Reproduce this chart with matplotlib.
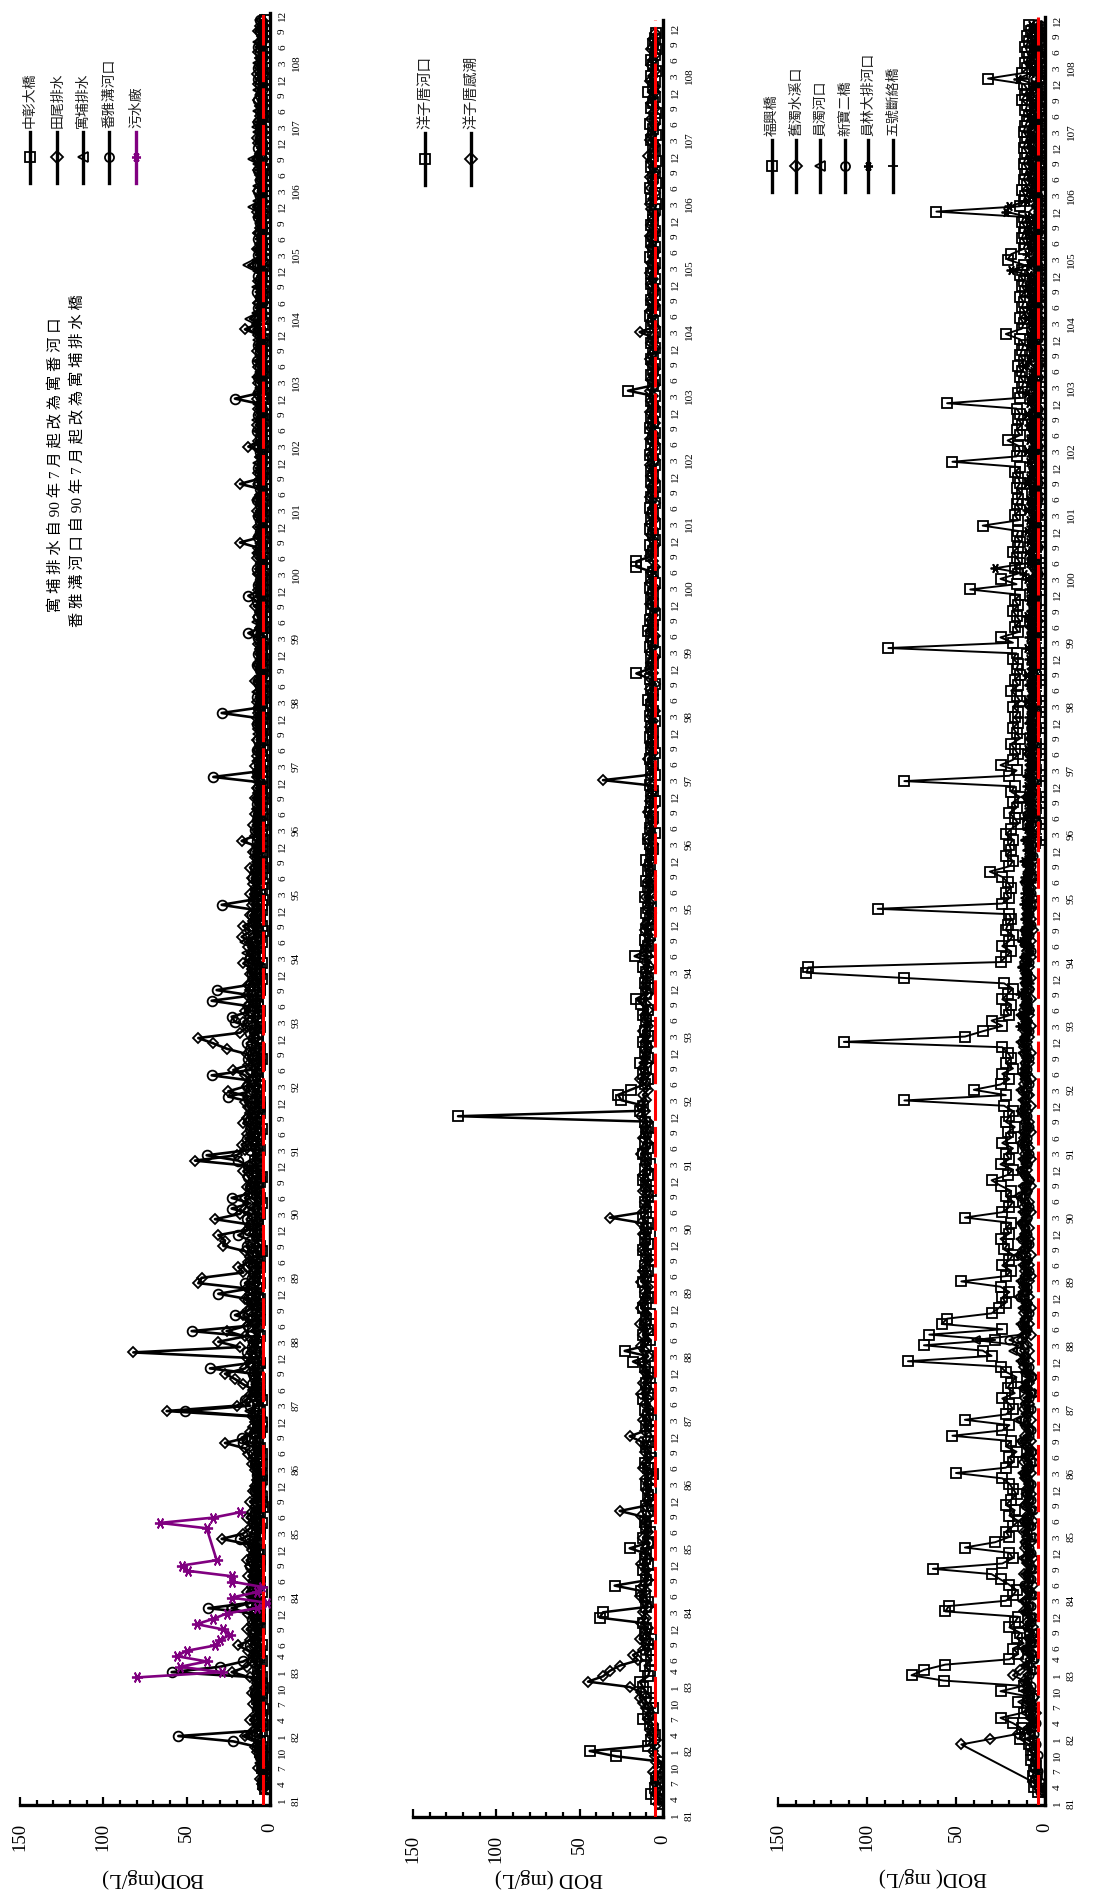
import numpy as np
import matplotlib.pyplot as plt
from matplotlib.lines import Line2D

plt.rcParams['font.family'] = ['Liberation Serif', 'Noto Sans CJK TC', 'DejaVu Sans']
CJK = ['Noto Sans CJK TC', 'Liberation Serif']

W, H = 1093, 1892

# ---------------- data (民國年/月, BOD mg/L) ----------------
# panel 1
zhongzhang_start = (81, 3)   # 中彰大橋
zhongzhang = [
    3, 4, 2, 3, 5, 4, 3, 6, 5, 4,
    6, 5, 4, 7, 5, 4, 6, 8, 5, 4, 6, 5,
    7, 6, 5, 8, 6, 5, 7, 9, 6, 8, 7, 6,
    8, 6, 7, 5, 9, 6, 7, 8, 6, 10, 7, 6,
    7, 9, 6, 8, 5, 7, 6, 4, 5, 6, 8, 7,
    6, 5, 7, 6, 8, 5, 6, 7, 9, 6, 5, 7,
    8, 6, 7, 5, 6, 8, 7, 6, 9, 7, 6, 8,
    9, 7, 8, 6, 10, 7, 6, 8, 7, 9, 6, 7,
    8, 6, 7, 9, 6, 8, 7, 5, 6, 8, 7, 9,
    7, 8, 6, 7, 5, 6, 8, 7, 6, 5, 7, 8,
    9, 7, 6, 8, 7, 6, 5, 7, 8, 6, 7, 6,
    8, 7, 6, 9, 7, 8, 6, 5, 7, 6, 8, 7,
    7, 6, 8, 7, 6, 9, 7, 8, 6, 7, 5, 6,
    6, 5, 7, 6, 8, 5, 6, 4, 5, 7, 6, 5,
    5, 4, 6, 5, 4, 3, 5, 4, 6, 5, 4, 5,
    4, 5, 3, 4, 6, 4, 3, 5, 4, 3, 5, 4,
    5, 4, 3, 4, 5, 3, 4, 3, 5, 4, 3, 4,
    4, 3, 5, 4, 3, 4, 3, 2, 4, 3, 4, 5,
    3, 4, 3, 5, 4, 3, 2, 3, 4, 3, 4, 3,
    4, 3, 4, 3, 2, 3, 4, 3, 2, 4, 3, 3,
    3, 4, 2, 3, 4, 3, 2, 3, 3, 4, 3, 2,
    3, 2, 4, 3, 3, 2, 3, 4, 2, 3, 3, 4,
    4, 3, 2, 3, 4, 2, 3, 3, 2, 3, 4, 3,
    3, 4, 3, 2, 3, 2, 3, 4, 3, 2, 3, 3,
    4, 3, 2, 3, 2, 3, 2, 3, 3, 2, 4, 3,
    3, 2, 3, 3, 2, 3, 4, 3, 2, 3, 3, 2,
    3, 3, 2, 3, 4, 2, 3, 2, 3, 3, 2, 3,
    4, 3, 3, 2, 3, 3, 2, 3, 2, 3, 3,
]
tianwei_start = (81, 3)   # 田尾排水
tianwei = [
    4, 5, 6, 4, 7, 5, 6, 8, 9, 7,
    15, 10, 8, 12, 9, 7, 10, 8, 11, 9, 8, 12,
    23, 14, 11, 9, 13, 19, 12, 10, 14, 11, 9, 13,
    23, 12, 10, 14, 11, 9, 13, 10, 12, 14, 9, 11,
    13, 29, 16, 12, 10, 14, 11, 9, 12, 8, 10, 9,
    8, 7, 9, 11, 10, 13, 15, 27, 14, 12, 10, 9,
    11, 62, 20, 14, 12, 10, 16, 21, 27, 15, 12, 14,
    82, 18, 31, 15, 26, 14, 12, 16, 13, 11, 15, 12,
    14, 43, 41, 16, 19, 13, 12, 15, 28, 27, 31, 14,
    12, 33, 18, 15, 13, 15, 12, 14, 11, 13, 16, 12,
    45, 20, 15, 17, 12, 14, 11, 16, 14, 12, 13, 15,
    13, 25, 14, 12, 15, 22, 13, 11, 14, 26, 34, 43,
    18, 14, 16, 12, 15, 13, 11, 14, 12, 13, 10, 12,
    11, 16, 12, 10, 13, 11, 17, 12, 16, 10, 12, 9,
    11, 9, 12, 8, 10, 11, 9, 12, 8, 9, 10, 8,
    17, 9, 8, 10, 7, 9, 8, 6, 9, 7, 8, 6,
    8, 7, 9, 6, 8, 7, 6, 8, 5, 7, 6, 8,
    7, 6, 8, 5, 7, 6, 9, 5, 6, 7, 5, 6,
    6, 7, 5, 8, 6, 5, 7, 6, 9, 5, 6, 7,
    6, 5, 7, 6, 5, 8, 6, 7, 18, 6, 5, 7,
    5, 6, 8, 5, 7, 6, 5, 18, 6, 7, 5, 6,
    6, 5, 13, 7, 5, 6, 8, 5, 6, 7, 5, 8,
    6, 5, 7, 6, 5, 7, 6, 5, 8, 6, 5, 7,
    15, 8, 7, 6, 5, 7, 6, 5, 6, 7, 5, 6,
    7, 6, 5, 8, 6, 5, 7, 6, 5, 6, 8, 7,
    6, 5, 7, 6, 5, 6, 7, 5, 8, 6, 5, 7,
    8, 6, 5, 7, 6, 5, 6, 7, 5, 6, 7, 5,
    8, 6, 5, 6, 7, 5, 6, 5, 7, 6, 5,
]
yupu_start = (81, 3)   # 寓埔排水
yupu = [
    3, 4, 3, 5, 4, 6, 5, 4, 7, 6,
    14, 8, 6, 5, 7, 6, 8, 5, 6, 7, 5, 6,
    8, 7, 9, 6, 8, 7, 10, 8, 7, 9, 6, 8,
    9, 8, 7, 10, 8, 6, 9, 7, 8, 6, 9, 7,
    8, 10, 7, 6, 8, 9, 7, 6, 8, 5, 7, 6,
    5, 6, 7, 5, 8, 6, 7, 9, 8, 6, 7, 5,
    6, 12, 8, 7, 9, 6, 8, 7, 10, 8, 6, 7,
    9, 8, 10, 7, 9, 8, 7, 9, 6, 8, 7, 9,
    8, 10, 9, 7, 8, 9, 6, 8, 10, 7, 9, 8,
    7, 9, 8, 10, 7, 8, 9, 7, 8, 6, 9, 7,
    10, 8, 9, 7, 8, 10, 7, 9, 8, 7, 6, 8,
    9, 8, 10, 7, 9, 8, 7, 6, 8, 9, 7, 10,
    8, 9, 7, 10, 8, 7, 9, 8, 6, 8, 7, 9,
    8, 7, 9, 14, 7, 15, 8, 7, 9, 6, 8, 7,
    7, 8, 6, 9, 7, 8, 6, 7, 5, 8, 6, 7,
    6, 7, 5, 8, 6, 5, 7, 6, 8, 5, 6, 7,
    7, 5, 6, 8, 5, 7, 6, 5, 7, 6, 8, 5,
    6, 7, 5, 6, 8, 5, 7, 6, 5, 7, 6, 5,
    5, 6, 7, 5, 6, 8, 5, 6, 7, 5, 6, 5,
    6, 5, 7, 6, 5, 6, 8, 5, 6, 7, 5, 6,
    5, 7, 6, 5, 8, 6, 5, 7, 6, 5, 6, 7,
    6, 5, 7, 6, 5, 7, 6, 8, 5, 6, 7, 5,
    7, 6, 5, 8, 6, 5, 7, 6, 5, 6, 7, 6,
    10, 7, 12, 8, 6, 7, 5, 6, 8, 6, 5, 7,
    13, 8, 6, 7, 5, 6, 7, 5, 6, 7, 6, 10,
    7, 6, 5, 7, 6, 5, 6, 7, 10, 6, 5, 6,
    6, 7, 8, 6, 5, 7, 6, 5, 6, 7, 5, 6,
    6, 5, 7, 6, 5, 6, 7, 5, 6, 5, 6,
]
fanya_start = (81, 3)   # 番雅溝河口
fanya = [
    2, 3, 4, 3, 5, 4, 6, 5, 8, 22,
    55, 9, 6, 7, 5, 8, 6, 7, 9, 6, 8, 7,
    59, 30, 16, 10, 8, 12, 9, 7, 10, 8, 11, 9,
    37, 12, 9, 11, 8, 10, 7, 9, 12, 8, 10, 9,
    11, 18, 9, 7, 10, 8, 9, 6, 8, 7, 9, 6,
    7, 8, 6, 9, 7, 10, 8, 16, 17, 9, 8, 7,
    9, 51, 12, 15, 10, 8, 11, 9, 10, 36, 12, 10,
    14, 11, 10, 12, 47, 13, 11, 21, 12, 10, 13, 31,
    12, 15, 11, 10, 13, 12, 10, 11, 14, 12, 19, 13,
    12, 14, 11, 23, 12, 23, 10, 12, 11, 13, 10, 13,
    19, 38, 12, 11, 14, 10, 12, 11, 13, 10, 12, 11,
    25, 12, 14, 11, 35, 12, 10, 13, 11, 12, 14, 10,
    12, 11, 21, 23, 12, 13, 35, 11, 32, 12, 10, 11,
    11, 10, 12, 10, 9, 11, 10, 8, 10, 9, 11, 8,
    29, 10, 8, 9, 7, 10, 8, 9, 7, 8, 9, 7,
    8, 7, 9, 6, 8, 7, 6, 8, 7, 5, 7, 6,
    34, 8, 6, 7, 5, 8, 6, 7, 5, 6, 8, 6,
    29, 7, 6, 8, 5, 6, 7, 5, 6, 8, 5, 7,
    6, 5, 7, 13, 6, 5, 7, 6, 5, 8, 13, 6,
    7, 6, 5, 8, 6, 5, 7, 6, 5, 7, 6, 5,
    6, 7, 5, 6, 8, 5, 6, 7, 5, 6, 7, 5,
    5, 6, 7, 5, 6, 8, 5, 6, 7, 5, 6, 21,
    7, 5, 6, 7, 5, 6, 8, 5, 6, 7, 5, 6,
    6, 7, 5, 6, 7, 5, 6, 8, 5, 6, 7, 5,
    6, 5, 7, 6, 5, 7, 6, 5, 6, 7, 5, 6,
    5, 6, 7, 5, 6, 5, 7, 6, 5, 6, 7, 5,
    6, 5, 6, 7, 5, 6, 5, 7, 6, 5, 6, 7,
    5, 7, 6, 5, 6, 7, 6, 5, 6, 5, 6,
]
wushui_start = (82, 12)   # 污水廠
wushui = [
    80,
    29, 54, 38, 56, 50, 33, 30, 24, 28, 44, 34, 26,
    8, 2, 23, 8, 5, 23, 23, 49, 53, 32, None, None,
    None, None, None, 38, 66, 34, 18,
]

# panel 2
yzc_river_start = (81, 3)   # 洋子厝河口
yzc_river = [
    2, 4, 7, 5, 3, 4, 2, 1, 1, 28,
    44, 9, 7, 5, 6, 8, 12, 9, 6, 8, 7, 10,
    12, 14, 9, 8, 11, 7, 10, 8, 9, 7, 11, 10,
    12, 38, 36, 10, 9, 11, 13, 29, 10, 8, 12, 9,
    11, 10, 20, 9, 12, 8, 10, 11, 7, 9, 10, 8,
    9, 7, 10, 8, 6, 9, 11, 7, 8, 10, 9, 7,
    8, 10, 7, 9, 11, 8, 12, 9, 7, 10, 8, 9,
    11, 18, 9, 23, 10, 8, 12, 9, 11, 10, 8, 12,
    10, 9, 11, 8, 12, 10, 9, 11, 8, 10, 12, 9,
    11, 8, 10, 9, 12, 10, 8, 11, 9, 7, 10, 12,
    9, 11, 8, 10, 12, 9, 11, 8, 10, 9, 11, 123,
    14, 12, 25, 27, 19, 11, 9, 12, 10, 14, 9, 11,
    10, 12, 9, 11, 8, 10, 12, 9, 13, 16, 10, 9,
    11, 9, 10, 12, 8, 17, 10, 9, 11, 8, 10, 9,
    8, 10, 9, 7, 11, 8, 9, 10, 7, 9, 8, 10,
    7, 6, 8, 9, 5, 8, 7, 6, 8, 7, 5, 7,
    6, 8, 7, 5, 7, 6, 8, 5, 7, 6, 8, 6,
    7, 5, 8, 6, 7, 9, 6, 7, 5, 8, 16, 7,
    6, 7, 5, 8, 6, 7, 9, 6, 8, 5, 7, 6,
    7, 6, 8, 5, 7, 6, 16, 16, 7, 6, 8, 5,
    6, 8, 5, 7, 6, 8, 5, 7, 6, 5, 7, 6,
    7, 5, 6, 8, 5, 7, 6, 5, 8, 6, 7, 5,
    6, 7, 5, 21, 6, 5, 7, 6, 5, 7, 6, 5,
    7, 6, 5, 7, 6, 8, 5, 6, 7, 5, 6, 7,
    5, 7, 6, 5, 8, 6, 5, 7, 6, 5, 7, 6,
    6, 5, 4, 7, 5, 8, 4, 6, 5, 7, 4, 6,
    5, 6, 7, 4, 6, 8, 5, 4, 7, 6, 5, 9,
    6, 5, 7, 4, 6, 7, 5, 4, 6, 5, 4,
]
yzc_tidal_start = (81, 3)   # 洋子厝感潮
yzc_tidal = [
    3, 2, 4, 3, 5, 4, 6, 3, 4, 5,
    6, 5, 4, 7, 8, 6, 9, 7, 10, 12, 14, 13,
    20, 45, 36, 32, 26, 15, 18, 12, 10, 14, 11, 9,
    13, 10, 12, 9, 11, 14, 10, 12, 9, 11, 10, 13,
    9, 11, 10, 8, 12, 9, 11, 10, 13, 26, 10, 9,
    8, 10, 9, 11, 8, 12, 10, 9, 11, 10, 13, 20,
    11, 9, 12, 10, 8, 11, 9, 13, 10, 12, 9, 11,
    10, 12, 9, 11, 13, 10, 12, 9, 14, 11, 10, 13,
    12, 10, 11, 9, 13, 10, 12, 11, 9, 10, 12, 11,
    10, 12, 11, 13, 32, 12, 10, 11, 9, 12, 10, 11,
    12, 9, 11, 10, 13, 11, 9, 12, 10, 11, 9, 13,
    11, 13, 10, 12, 9, 11, 14, 10, 12, 9, 11, 10,
    9, 11, 10, 12, 9, 10, 11, 9, 10, 12, 9, 11,
    10, 9, 11, 8, 10, 9, 11, 10, 8, 9, 11, 10,
    8, 7, 9, 8, 10, 7, 8, 9, 7, 8, 9, 7,
    7, 8, 6, 9, 7, 8, 6, 7, 9, 6, 8, 7,
    6, 7, 36, 8, 6, 7, 9, 6, 7, 8, 6, 7,
    8, 6, 7, 5, 8, 7, 6, 8, 5, 7, 6, 8,
    7, 5, 8, 6, 7, 5, 8, 6, 7, 6, 5, 8,
    6, 7, 5, 8, 6, 7, 5, 6, 8, 7, 5, 6,
    7, 6, 8, 5, 7, 6, 5, 8, 6, 7, 5, 7,
    6, 8, 5, 7, 6, 5, 8, 6, 7, 5, 6, 8,
    5, 7, 6, 8, 5, 7, 6, 5, 7, 8, 6, 5,
    7, 6, 14, 5, 7, 6, 8, 5, 7, 6, 5, 7,
    6, 8, 5, 7, 6, 5, 7, 6, 8, 5, 7, 6,
    5, 7, 8, 6, 5, 7, 6, 8, 5, 6, 7, 9,
    6, 5, 8, 7, 6, 5, 7, 6, 5, 7, 6, 5,
    5, 8, 6, 5, 7, 6, 5, 7, 5, 6, 5,
]

# panel 3
fuxing_start = (81, 3)   # 福興橋
fuxing = [
    4, 6, 5, 7, 6, 5, 8, 7, 8, 9,
    14, 11, 13, 18, 25, 12, 10, 15, 9, 25, 12, 57,
    75, 68, 56, 20, 15, 18, 12, 16, 14, 20, 17, 15,
    56, 54, 22, 18, 16, 20, 25, 30, 63, 24, 18, 20,
    45, 28, 20, 22, 18, 15, 20, 17, 22, 19, 16, 18,
    20, 24, 50, 22, 18, 20, 16, 22, 19, 52, 24, 20,
    45, 22, 18, 20, 24, 17, 21, 19, 16, 22, 25, 77,
    30, 35, 68, 28, 65, 24, 58, 55, 30, 26, 22, 24,
    20, 25, 47, 22, 19, 24, 20, 18, 23, 21, 25, 20,
    22, 19, 45, 24, 20, 18, 22, 19, 25, 30, 21, 18,
    25, 20, 22, 18, 24, 19, 21, 17, 22, 20, 18, 23,
    79, 22, 40, 25, 20, 24, 18, 22, 19, 21, 24, 113,
    45, 35, 24, 30, 20, 22, 19, 24, 21, 18, 23, 79,
    134, 133, 25, 22, 19, 24, 20, 18, 22, 21, 19, 20,
    94, 24, 20, 22, 19, 21, 24, 31, 20, 18, 22, 19,
    20, 18, 22, 19, 15, 17, 20, 16, 18, 14, 19, 17,
    79, 20, 16, 25, 18, 15, 17, 19, 14, 16, 18, 15,
    17, 15, 18, 14, 16, 19, 15, 17, 14, 16, 15, 18,
    16, 88, 18, 25, 15, 17, 14, 16, 18, 15, 17, 14,
    42, 16, 25, 15, 17, 14, 16, 18, 15, 14, 16, 15,
    35, 15, 17, 14, 16, 15, 13, 16, 14, 15, 17, 14,
    52, 16, 14, 15, 21, 14, 16, 13, 15, 14, 16, 55,
    14, 15, 13, 12, 14, 13, 15, 12, 14, 13, 12, 14,
    22, 13, 12, 14, 11, 13, 12, 14, 11, 13, 12, 14,
    13, 12, 21, 19, 12, 11, 13, 12, 11, 13, 12, 61,
    14, 12, 11, 13, 10, 12, 11, 10, 12, 11, 10, 12,
    11, 10, 12, 11, 10, 9, 11, 10, 13, 11, 10, 12,
    32, 13, 10, 11, 9, 10, 11, 9, 10, 8, 9,
]
jiuzhuo_start = (81, 3)   # 舊濁水溪口
jiuzhuo = [
    1, None, 7, None, None, None, None, None, None, 47,
    31, 15, 9, 6, 8, 5, 7, 9, 6, 8, 10, 12,
    18, 14, 9, 11, 7, 10, 8, 6, 9, 7, 10, 8,
    12, 9, 11, 8, 10, 7, 9, 12, 8, 10, 7, 9,
    11, 8, 10, 12, 9, 7, 10, 8, 11, 9, 8, 10,
    9, 11, 8, 10, 12, 9, 7, 10, 8, 11, 9, 10,
    8, 10, 12, 9, 11, 8, 10, 9, 7, 10, 12, 9,
    11, 9, 10, 13, 8, 11, 9, 10, 12, 8, 10, 9,
    10, 12, 9, 8, 11, 9, 10, 8, 12, 10, 9, 11,
    9, 11, 10, 8, 12, 9, 11, 10, 8, 9, 11, 10,
    10, 8, 11, 9, 10, 12, 8, 10, 9, 11, 10, 8,
    11, 9, 10, 12, 8, 10, 11, 9, 10, 8, 12, 10,
    9, 11, 8, 10, 9, 12, 10, 8, 11, 9, 10, 8,
    10, 9, 11, 8, 10, 9, 8, 10, 7, 9, 8, 10,
    8, 10, 7, 9, 8, 10, 7, 8, 9, 7, 8, 9,
    7, 8, 6, 9, 7, 8, 6, 7, 8, 6, 7, 8,
    6, 7, 8, 6, 7, 5, 8, 6, 7, 5, 6, 7,
    7, 5, 6, 8, 5, 7, 6, 5, 7, 6, 5, 6,
    5, 7, 6, 5, 7, 6, 4, 6, 5, 7, 6, 5,
    6, 5, 7, 4, 6, 5, 7, 6, 4, 5, 6, 5,
    5, 6, 4, 7, 5, 6, 4, 5, 6, 4, 5, 6,
    4, 6, 5, 4, 6, 5, 7, 4, 5, 6, 4, 5,
    6, 4, 5, 6, 4, 5, 4, 6, 5, 4, 6, 5,
    5, 4, 6, 5, 4, 6, 5, 4, 5, 6, 4, 5,
    4, 5, 6, 4, 5, 4, 6, 5, 4, 5, 4, 6,
    5, 4, 5, 6, 4, 5, 4, 5, 6, 4, 5, 4,
    4, 6, 4, 5, 4, 6, 5, 4, 5, 4, 6, 4,
    5, 4, 6, 4, 5, 4, 5, 4, 6, 4, 5,
]
yuanzhuo_start = (81, 3)   # 員濁河口
yuanzhuo = [
    2, 3, 5, 4, 6, 5, 7, 6, 8, 7,
    9, 8, 10, 7, 9, 11, 8, 10, 9, 12, 10, 11,
    10, 8, 11, 7, 9, 12, 8, 10, 7, 11, 9, 8,
    11, 9, 13, 8, 10, 12, 9, 11, 8, 10, 13, 9,
    10, 12, 8, 11, 9, 13, 10, 8, 12, 9, 11, 10,
    9, 11, 13, 10, 8, 12, 9, 11, 14, 10, 9, 12,
    16, 11, 9, 12, 10, 8, 13, 11, 9, 12, 10, 14,
    12, 18, 15, 39, 13, 11, 14, 12, 10, 13, 11, 15,
    13, 11, 14, 12, 10, 13, 11, 15, 12, 10, 14, 11,
    12, 14, 11, 13, 10, 12, 15, 11, 13, 10, 12, 14,
    11, 13, 10, 12, 14, 11, 13, 10, 12, 11, 14, 12,
    13, 11, 14, 10, 12, 13, 11, 12, 10, 13, 11, 14,
    12, 10, 13, 11, 14, 10, 12, 11, 13, 10, 12, 11,
    11, 13, 10, 12, 9, 11, 13, 10, 12, 9, 11, 10,
    10, 8, 11, 9, 10, 12, 8, 10, 9, 11, 8, 9,
    9, 11, 8, 10, 9, 7, 10, 8, 9, 11, 8, 9,
    8, 10, 7, 9, 8, 10, 7, 8, 9, 7, 8, 9,
    7, 8, 9, 6, 8, 7, 9, 6, 7, 8, 6, 7,
    6, 7, 8, 6, 7, 9, 6, 7, 8, 6, 7, 6,
    7, 6, 8, 5, 7, 6, 8, 7, 5, 6, 7, 6,
    6, 7, 5, 6, 8, 5, 7, 6, 5, 7, 6, 5,
    5, 6, 7, 5, 6, 5, 7, 6, 5, 6, 5, 7,
    6, 5, 6, 7, 5, 6, 5, 4, 6, 5, 7, 5,
    5, 6, 4, 5, 7, 5, 6, 4, 5, 6, 4, 5,
    4, 5, 6, 4, 5, 4, 6, 5, 4, 5, 6, 4,
    5, 4, 5, 6, 4, 5, 4, 5, 3, 4, 5, 4,
    4, 5, 3, 4, 5, 4, 3, 5, 4, 3, 4, 5,
    3, 4, 5, 4, 3, 4, 5, 3, 4, 3, 4,
]
xinbao_start = (81, 3)   # 新寶二橋
xinbao = [
    3, 4, 3, 5, 4, 6, 5, 4, 6, 5,
    7, 6, 8, 5, 7, 9, 6, 8, 7, 9, 8, 10,
    9, 7, 10, 6, 8, 11, 7, 9, 6, 10, 8, 7,
    10, 8, 11, 7, 9, 12, 8, 10, 7, 9, 11, 8,
    9, 11, 7, 10, 8, 12, 9, 7, 11, 8, 10, 9,
    8, 10, 12, 9, 7, 11, 8, 10, 13, 9, 8, 11,
    12, 10, 8, 11, 9, 7, 12, 10, 8, 11, 9, 13,
    11, 14, 12, 20, 12, 10, 13, 11, 9, 12, 10, 14,
    12, 10, 13, 11, 9, 12, 10, 14, 11, 9, 13, 10,
    11, 13, 10, 12, 9, 11, 14, 10, 12, 9, 11, 13,
    10, 12, 9, 11, 13, 10, 12, 9, 11, 10, 13, 11,
    12, 10, 13, 9, 11, 12, 10, 11, 9, 12, 10, 13,
    11, 9, 12, 10, 13, 9, 11, 10, 12, 9, 11, 10,
    10, 12, 9, 11, 8, 10, 12, 9, 11, 8, 10, 9,
    9, 7, 10, 8, 9, 11, 7, 9, 8, 10, 7, 8,
    8, 10, 7, 9, 8, 6, 9, 7, 8, 10, 7, 8,
    7, 9, 6, 8, 7, 9, 6, 7, 8, 6, 7, 8,
    6, 7, 8, 5, 7, 6, 8, 5, 6, 7, 5, 6,
    5, 6, 7, 5, 6, 8, 5, 6, 7, 5, 6, 5,
    6, 5, 7, 4, 6, 5, 7, 6, 4, 5, 6, 5,
    5, 6, 4, 5, 7, 4, 6, 5, 4, 6, 5, 4,
    4, 5, 6, 4, 5, 4, 6, 5, 4, 5, 4, 6,
    5, 4, 5, 6, 4, 5, 4, 3, 5, 4, 6, 4,
    4, 5, 3, 4, 6, 4, 5, 3, 4, 5, 3, 4,
    3, 4, 5, 3, 4, 3, 5, 4, 3, 4, 5, 3,
    4, 3, 4, 5, 3, 4, 3, 4, 2, 3, 4, 3,
    3, 4, 2, 3, 4, 3, 2, 4, 3, 2, 3, 4,
    2, 3, 4, 3, 2, 3, 4, 2, 3, 2, 3,
]
yuanlin_start = (93, 1)   # 員林大排河口
yuanlin = [
    12, 10, 14, 11, 13, 9, 12, 10, 14, 11, 9, 12,
    11, 13, 10, 12, 9, 11, 13, 10, 12, 9, 11, 10,
    10, 12, 9, 11, 10, 8, 11, 9, 10, 12, 9, 10,
    9, 11, 8, 10, 9, 11, 8, 9, 10, 8, 9, 10,
    8, 10, 9, 7, 9, 8, 10, 8, 7, 9, 8, 9,
    9, 7, 8, 10, 8, 7, 9, 8, 10, 7, 8, 9,
    8, 10, 7, 9, 8, 7, 9, 10, 8, 7, 9, 8,
    9, 8, 10, 12, 28, 9, 8, 10, 7, 9, 8, 10,
    8, 9, 7, 10, 8, 9, 7, 8, 10, 9, 8, 7,
    9, 8, 10, 7, 9, 8, 7, 9, 8, 10, 7, 9,
    8, 10, 7, 9, 8, 7, 12, 9, 8, 7, 9, 8,
    9, 7, 8, 10, 8, 9, 7, 8, 9, 10, 8, 9,
    19, 9, 8, 10, 7, 9, 8, 10, 9, 8, 10, 22,
    20, 10, 8, 9, 7, 8, 9, 7, 8, 9, 7, 8,
    9, 8, 9, 7, 8, 9, 8, 7, 8, 9, 8, 7,
    15, 8, 7, 9, 8, 7, 8, 7, 9, 7, 8,
]
wuhao_start = (96, 1)   # 五號斷絡橋
wuhao = [
    3, 2, 4, 3, 2, 3, 4, 2, 3, 2, 3, 4,
    2, 3, 2, 4, 3, 2, 3, 2, 4, 3, 2, 3,
    3, 2, 3, 2, 3, 4, 2, 3, 2, 3, 2, 3,
    2, 3, 4, 2, 3, 2, 3, 2, 3, 2, 4, 2,
    3, 2, 3, 2, 2, 3, 2, 4, 2, 3, 2, 3,
    2, 3, 2, 3, 2, 2, 3, 2, 3, 2, 3, 2,
    3, 2, 2, 3, 2, 3, 2, 2, 3, 2, 2, 3,
    2, 2, 3, 2, 3, 2, 2, 3, 2, 2, 3, 2,
    2, 3, 2, 2, 3, 2, 2, 2, 3, 2, 2, 3,
    2, 2, 2, 3, 2, 2, 3, 2, 2, 2, 3, 2,
    3, 2, 2, 2, 3, 2, 2, 2, 3, 2, 2, 2,
    2, 2, 3, 2, 2, 2, 3, 2, 2, 2, 2, 3,
    2, 3, 2, 2, 2, 3, 2, 2, 2, 3, 2,
]

standard = [4, 5, 4]   # 紅色虛線 (各圖)

years = list(range(81, 109))
early_months = {81: [1, 4, 7, 10], 82: [1, 4, 7, 10], 83: [1, 4, 6, 9, 12]}
late_months = [3, 6, 9, 12]

# ---------------- layout (pixels of the 1093x1892 page) ----------------
# left px, width px, axis bottom px, 81/1 px, 108/12 px, axis top px
panels = [
    (20, 250, 1805, 1800, 15, 13),
    (413, 250, 1817, 1815, 28, 20),
    (778, 267, 1805, 1803, 20, 17),
]


def month_index(year, month):
    return (year - 81) * 12 + (month - 1)


fig = plt.figure(figsize=(W / 100, H / 100), dpi=100)


def make_axes(left, width, bottom, t0, t335, top):
    scale = (t0 - t335) / 335.0
    ax = fig.add_axes([left / W, (H - bottom) / H, width / W, (bottom - top) / H])
    ax.set_xlim(150, 0)
    ax.set_ylim(-(bottom - t0) / scale, 335 + (t335 - top) / scale)
    ax.spines['top'].set_visible(False)
    ax.spines['left'].set_visible(False)
    for s in ['bottom', 'right']:
        ax.spines[s].set_linewidth(2.4)
    ax.set_xticks([0, 50, 100, 150])
    ax.set_xticks(np.arange(0, 151, 10), minor=True)
    ax.set_xticklabels(['0', '50', '100', '150'], rotation=90, fontsize=13.5)
    ax.tick_params(axis='x', which='major', direction='in', length=6, width=1.6, pad=13)
    ax.tick_params(axis='x', which='minor', direction='in', length=3.5, width=1.6)
    ax.set_yticks([])
    for y in years:
        ms = early_months.get(y, late_months)
        for m in ms:
            ax.annotate(str(m), xy=(1, month_index(y, m)), xycoords=ax.get_yaxis_transform(),
                        xytext=(9, 0), textcoords='offset points', rotation=90,
                        ha='center', va='center', fontsize=8, annotation_clip=False)
        ym = 1 if y < 84 else 3
        ax.annotate(str(y), xy=(1, month_index(y, ym)), xycoords=ax.get_yaxis_transform(),
                    xytext=(19, 0), textcoords='offset points', rotation=90,
                    ha='center', va='center', fontsize=8, annotation_clip=False)
    return ax


def draw(ax, start, values, marker, color='black', lw=1.6, ms=6.5, zorder=2):
    v = np.array(values, dtype=float)
    t = month_index(*start) + np.arange(len(v))
    ok = ~np.isnan(v)
    ax.plot(v[ok], t[ok], color=color, lw=lw, marker=marker, ms=ms,
            mfc='none', mec=color, mew=1.3, zorder=zorder)


star = (6, 2, 90)

axes = [make_axes(*p) for p in panels]
ax1, ax2, ax3 = axes

draw(ax1, zhongzhang_start, zhongzhang, 's', lw=1.9, ms=6.5)
draw(ax1, tianwei_start, tianwei, 'D', lw=1.9, ms=5.5)
draw(ax1, yupu_start, yupu, '<', lw=1.9, ms=6.5)
draw(ax1, fanya_start, fanya, 'o', lw=1.9, ms=7)
draw(ax1, wushui_start, wushui, star, color='#800080', lw=1.9, ms=8, zorder=3)

draw(ax2, yzc_river_start, yzc_river, 's', lw=1.8, ms=6.5)
draw(ax2, yzc_tidal_start, yzc_tidal, 'D', lw=1.8, ms=5.5)

draw(ax3, fuxing_start, fuxing, 's', lw=1.4, ms=6.5)
draw(ax3, jiuzhuo_start, jiuzhuo, 'D', lw=1.4, ms=5.5)
draw(ax3, yuanzhuo_start, yuanzhuo, '<', lw=1.4, ms=6)
draw(ax3, xinbao_start, xinbao, 'o', lw=1.4, ms=6)
draw(ax3, yuanlin_start, yuanlin, star, lw=1.4, ms=7)
draw(ax3, wuhao_start, wuhao, '+', lw=1.4, ms=6)

for ax, s in zip(axes, standard):
    ax.axvline(s, color='red', lw=2.2, ls=(0, (10, 2)), zorder=4)

# axis titles
for (x, y, txt) in [(152, 1878, 'BOD(mg/L)'), (549, 1878, 'BOD (mg/L)'), (933, 1877, 'BOD( mg/L)')]:
    fig.text(x / W, 1 - y / H, txt, rotation=180, ha='center', va='center', fontsize=15)


# legends
def legend(xs, y_top, y_bot, names, markers, colors, fs):
    for x, name, mk, c in zip(xs, names, markers, colors):
        fig.add_artist(Line2D([x / W, x / W], [1 - y_bot / H, 1 - y_top / H], color=c, lw=2.4,
                              transform=fig.transFigure))
        fig.add_artist(Line2D([x / W], [1 - (y_top + y_bot) / 2 / H], marker=mk, ms=6.5,
                              mfc='none', mec=c, mew=1.3, color=c, transform=fig.transFigure))
        fig.text(x / W, 1 - (y_top - 4) / H, name, rotation=90, ha='center', va='bottom',
                 fontsize=fs, family=CJK, color='#222222')


legend([30, 57, 83, 109, 136], 132, 183,
       ['中彰大橋', '田尾排水', '寓埔排水', '番雅溝河口', '污水廠'],
       ['s', 'D', '<', 'o', star], ['black'] * 4 + ['#800080'], 10)
legend([425, 471], 133, 185, ['洋子厝河口', '洋子厝感潮'], ['s', 'D'], ['black'] * 2, 10.5)
legend([772, 796, 820, 845, 868, 893], 140, 192,
       ['福興橋', '舊濁水溪口', '員濁河口', '新寶二橋', '員林大排河口', '五號斷絡橋'],
       ['s', 'D', '<', 'o', star, '+'], ['black'] * 6, 10)

fig.text(55 / W, 1 - 612 / H, '寓 埔 排 水 自 90 年 7 月 起 改 為 寓 番 河 口', rotation=90,
         ha='center', va='bottom', fontsize=11)
fig.text(77 / W, 1 - 627 / H, '番 雅 溝 河 口 自 90 年 7 月 起 改 為 寓 埔 排 水 橋', rotation=90,
         ha='center', va='bottom', fontsize=11)

fig.savefig('out.png', dpi=100)
